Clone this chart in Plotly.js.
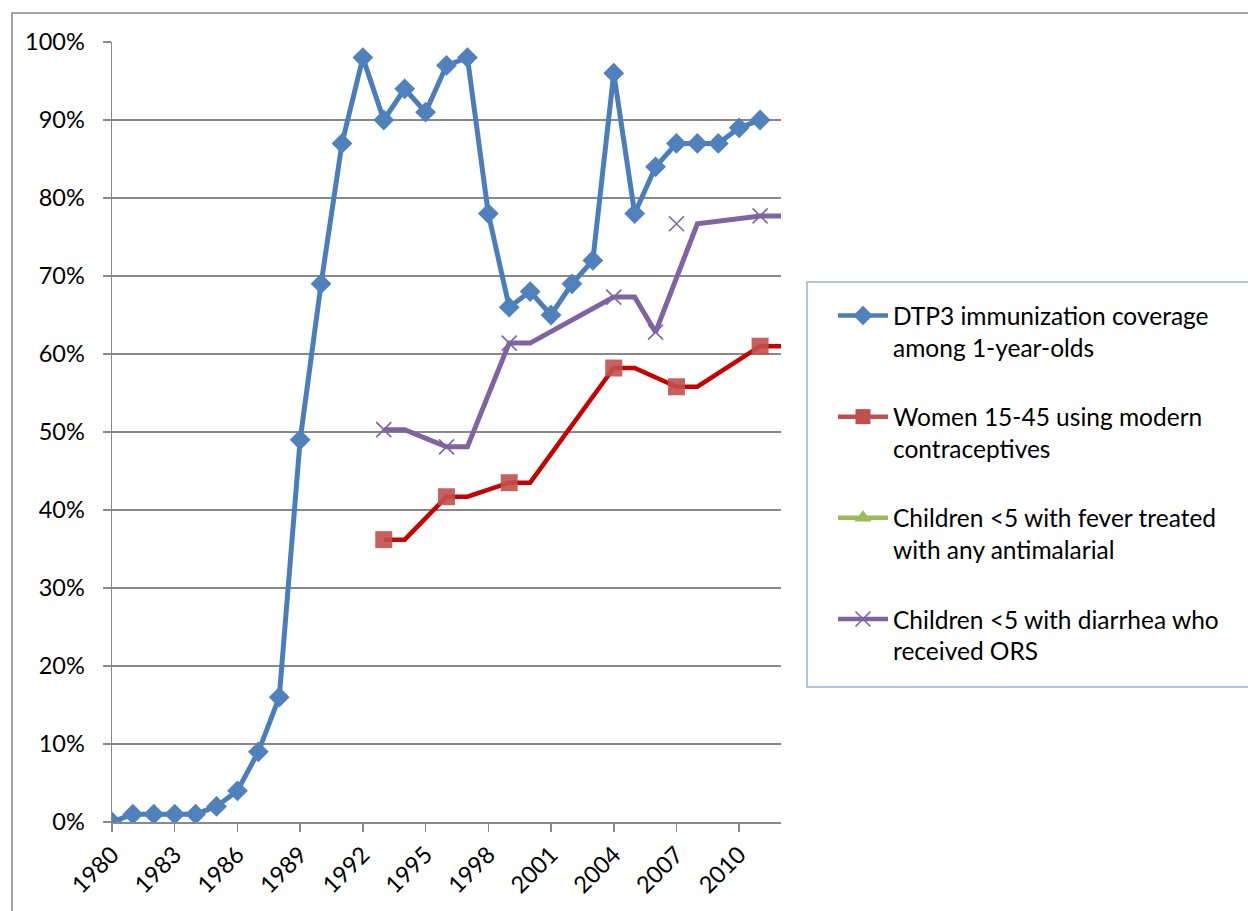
<!DOCTYPE html>
<html>
<head>
<meta charset="utf-8">
<script src="https://cdn.plot.ly/plotly-3.0.1.min.js"></script>
<style>
html,body{margin:0;padding:0;background:#fff;}
#chart{width:1248px;height:911px;}
</style>
</head>
<body>
<div id="chart"></div>
<script>
// ---- data ----
var dtpYears = [1980,1981,1982,1983,1984,1985,1986,1987,1988,1989,1990,1991,1992,1993,1994,1995,1996,1997,1998,1999,2000,2001,2002,2003,2004,2005,2006,2007,2008,2009,2010,2011];
var dtpValues = [0,1,1,1,1,2,4,9,16,49,69,87,98,90,94,91,97,98,78,66,68,65,69,72,96,78,84,87,87,87,89,90];

var contraMarkYears = [1993,1996,1999,2004,2007,2011];
var contraMarkValues = [36.2,41.7,43.5,58.2,55.8,61.0];
var contraLineYears = [1993,1994,1996,1997,1999,2000,2004,2005,2007,2008,2011,2012];
var contraLineValues = [36.2,36.2,41.7,41.7,43.5,43.5,58.2,58.2,55.8,55.8,61.0,61.0];

var orsMarkYears = [1993,1996,1999,2004,2006,2007,2011];
var orsMarkValues = [50.3,48.1,61.4,67.3,62.8,76.7,77.7];
var orsLineYears = [1993,1994,1996,1997,1999,2000,2004,2005,2006,2008,2011,2012];
var orsLineValues = [50.3,50.3,48.1,48.1,61.4,61.4,67.3,67.3,62.8,76.7,77.7,77.7];

var malariaYears = [];
var malariaValues = [];

var tickYears = [1980,1983,1986,1989,1992,1995,1998,2001,2004,2007,2010];
var tickLabels = ["1980","1983","1986","1989","1992","1995","1998","2001","2004","2007","2010"];
var yTicks = [0,10,20,30,40,50,60,70,80,90,100];
var yTickLabels = ["0%","10%","20%","30%","40%","50%","60%","70%","80%","90%","100%"];

var names = [
  "DTP3 immunization coverage<br>among 1-year-olds",
  "Women 15-45 using modern<br>contraceptives",
  "Children <5 with fever treated<br>with any antimalarial",
  "Children <5 with diarrhea who<br>received ORS"
];

// ---- styles ----
var blue = "#4a7ebb", blueM = "#4f81bd";
var red = "#c80000", redM = "#c0504d";
var green = "#9bbb59";
var purple = "#8064a2";

function p(v){ return v.map(function(d){ return d/100; }); }

var traces = [
  {x: dtpYears, y: p(dtpValues), mode: "lines+markers", showlegend: false,
   line: {color: blue, width: 5}, marker: {symbol: "diamond", size: 16, color: blueM, line: {width: 0}}},
  {x: contraLineYears, y: p(contraLineValues), mode: "lines", showlegend: false,
   line: {color: red, width: 4.5}},
  {x: contraMarkYears, y: p(contraMarkValues), mode: "markers", showlegend: false,
   marker: {symbol: "square", size: 17, color: redM, opacity: 0.9, line: {width: 0}}},
  {x: orsLineYears, y: p(orsLineValues), mode: "lines", showlegend: false,
   line: {color: purple, width: 5}},
  {x: orsMarkYears, y: p(orsMarkValues), mode: "markers", showlegend: false,
   marker: {symbol: "x-thin", size: 15, color: purple, line: {width: 1.6, color: purple}}},
  {x: malariaYears, y: p(malariaValues), mode: "lines+markers", showlegend: false,
   line: {color: green, width: 4.5}, marker: {symbol: "triangle-up", size: 14, color: green}},
  // legend entries
  {x: [null], y: [null], name: names[0], mode: "lines+markers", legendgroup: "a",
   line: {color: blue, width: 4.5}, marker: {symbol: "diamond", size: 15, color: blueM}},
  {x: [null], y: [null], name: names[1], mode: "lines+markers", legendgroup: "b",
   line: {color: "#c0504d", width: 4.5}, marker: {symbol: "square", size: 15, color: redM}},
  {x: [null], y: [null], name: names[2], mode: "lines+markers", legendgroup: "c",
   line: {color: green, width: 4.5}, marker: {symbol: "triangle-up", size: 15, color: green}},
  {x: [null], y: [null], name: names[3], mode: "lines+markers", legendgroup: "d",
   line: {color: purple, width: 4.5}, marker: {symbol: "x-thin", size: 15, color: purple, line: {width: 1.6, color: purple}}}
];

var W = 1248, H = 911;
var L = 112, R = 781, T = 42, B = 822;
function px2x(X){ return (X - L) / (R - L); }
function px2y(Y){ return (B - Y) / (B - T); }

var gridColor = "#898989";
var fontFam = "Lato, 'Open Sans', sans-serif";

var layout = {
  width: W, height: H,
  margin: {l: L, r: W - R, t: T, b: H - B, pad: 0},
  paper_bgcolor: "#fff", plot_bgcolor: "#fff",
  font: {family: fontFam, size: 23, color: "#000"},
  showlegend: true,
  xaxis: {
    type: "linear", range: [1980, 2012], fixedrange: true,
    tickmode: "array", tickvals: tickYears, ticktext: tickLabels, tickangle: -45,
    ticks: "outside", ticklen: 8, tickwidth: 1.5, tickcolor: gridColor,
    showgrid: false, zeroline: false,
    showline: true, linecolor: gridColor, linewidth: 1.5,
    tickfont: {family: fontFam, size: 23.5, color: "#000"}
  },
  yaxis: {
    range: [0, 1], fixedrange: true,
    tickmode: "array", tickvals: p(yTicks), ticktext: yTickLabels,
    ticks: "outside", ticklen: 8, tickwidth: 1.5, tickcolor: gridColor,
    showgrid: true, gridcolor: gridColor, gridwidth: 1.5,
    zeroline: false, showline: true, linecolor: gridColor, linewidth: 1.5,
    ticklabelstandoff: 13,
    tickfont: {family: fontFam, size: 23.5, color: "#000"}
  },
  legend: {
    x: px2x(833), y: px2y(293), xanchor: "left", yanchor: "top",
    bgcolor: "rgba(0,0,0,0)", borderwidth: 0,
    font: {family: fontFam, size: 24.5, color: "#000"},
    tracegroupgap: 34.5, itemwidth: 50, traceorder: "grouped", valign: "top"
  },
  shapes: [
    {type: "rect", xref: "paper", yref: "paper",
     x0: px2x(12), x1: px2x(1400), y0: px2y(13), y1: px2y(1000),
     line: {color: "#878787", width: 1.5}, fillcolor: "rgba(0,0,0,0)", layer: "below"},
    {type: "rect", xref: "paper", yref: "paper",
     x0: px2x(807), x1: px2x(1400), y0: px2y(282), y1: px2y(687),
     line: {color: "#95b3d7", width: 1.5}, fillcolor: "rgba(0,0,0,0)", layer: "above"}
  ],
  hovermode: false
};

Plotly.newPlot("chart", traces, layout, {staticPlot: true, displayModeBar: false});
</script>
</body>
</html>
